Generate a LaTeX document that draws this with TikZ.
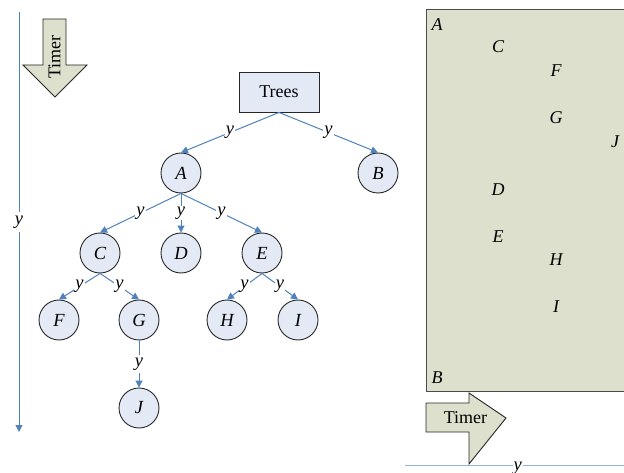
\documentclass[tikz,border=0pt]{standalone}
\usepackage{fontspec}
\setmainfont{Liberation Serif}
\usetikzlibrary{arrows.meta}

\definecolor{edgeblue}{HTML}{4F81BD}
\definecolor{nodefill}{HTML}{E4EAF5}
\definecolor{olivefill}{HTML}{DDE0CC}
\definecolor{lineblue}{HTML}{95B3D7}

\tikzset{
  txt/.style={font=\fontsize{18}{20}\selectfont},
  tnode/.style={circle, draw=black!85, line width=0.9pt, fill=nodefill, minimum size=40pt, inner sep=0pt, font=\fontsize{18.5}{20}\selectfont\itshape},
  treeedge/.style={draw=edgeblue, line width=1pt, -{Triangle[length=7pt,width=7pt]}},
  ymark/.style={fill=white, inner sep=1pt, font=\fontsize{18.5}{20}\selectfont\itshape},
  slot/.style={font=\fontsize{18}{20}\selectfont\itshape, inner sep=0pt},
  timerarrow/.style={draw=black!85, line width=0.9pt, fill=olivefill}
}

\begin{document}
\begin{tikzpicture}[x=1pt,y=-1pt]
\useasboundingbox (0,0) rectangle (624,473);
% time axis, left
\coordinate (top) at (19,12);
\coordinate (bot) at (19,432);
\draw[treeedge] (top) -- node[ymark, inner sep=4pt]{y} (bot);
% timer arrow, down
\draw[timerarrow] (43,19)--(66,19)--(66,65)--(87,65)--(55,97)--(23,65)--(43,65)--cycle;
\node[txt, rotate=90] (timerdown) at (54.5,57) {Timer};
% the tree
\node[txt, draw=black!85, line width=0.9pt, fill=nodefill, minimum width=80pt, minimum height=40pt] (trees) at (279,92) {Trees};
\node[tnode] (a) at (181,173) {A};
\node[tnode] (b) at (378,173) {B};
\node[tnode] (c) at (100,253) {C};
\node[tnode] (d) at (181,253) {D};
\node[tnode] (e) at (262,253) {E};
\node[tnode] (f) at (59,320) {F};
\node[tnode] (g) at (139,320) {G};
\node[tnode] (h) at (227,320) {H};
\node[tnode] (i) at (298,320) {I};
\node[tnode] (j) at (139,408) {J};
\draw[treeedge] (trees.south) -- node[ymark]{y} (a.north);
\draw[treeedge] (trees.south) -- node[ymark]{y} (b.north);
\draw[treeedge] (a.south) -- node[ymark]{y} (c.north);
\draw[treeedge] (a.south) -- node[ymark]{y} (d.north);
\draw[treeedge] (a.south) -- node[ymark]{y} (e.north);
\draw[treeedge] (c.south) -- node[ymark]{y} (f.north);
\draw[treeedge] (c.south) -- node[ymark]{y} (g.north);
\draw[treeedge] (e.south) -- node[ymark]{y} (h.north);
\draw[treeedge] (e.south) -- node[ymark]{y} (i.north);
\draw[treeedge] (g.south) -- node[ymark, inner sep=3pt]{y} (j.north);
% the slots, right
\draw[draw=black!70, line width=0.9pt, fill=olivefill] (426,9) rectangle (630,391);
\node[slot] (sa) at (437,25) {A};
\node[slot] (sc) at (498,47) {C};
\node[slot] (sf) at (556,71) {F};
\node[slot] (sg) at (556,118) {G};
\node[slot] (sj) at (615,142) {J};
\node[slot] (sd) at (498,190) {D};
\node[slot] (se) at (498,237) {E};
\node[slot] (sh) at (556,260) {H};
\node[slot] (si) at (556,307) {I};
\node[slot] (sb) at (437,378) {B};
% timer arrow, right
\draw[timerarrow] (426,403)--(469,403)--(469,393)--(506,418)--(469,464)--(469,432)--(426,432)--cycle;
\node[txt] (timerright) at (465.5,418) {Timer};
% time axis, bottom
\coordinate (left) at (405,465);
\coordinate (right) at (626,465);
\draw[draw=lineblue, line width=1pt] (left) -- node[ymark, pos=0.51, yshift=-3pt]{y} (right);
\end{tikzpicture}
\end{document}
